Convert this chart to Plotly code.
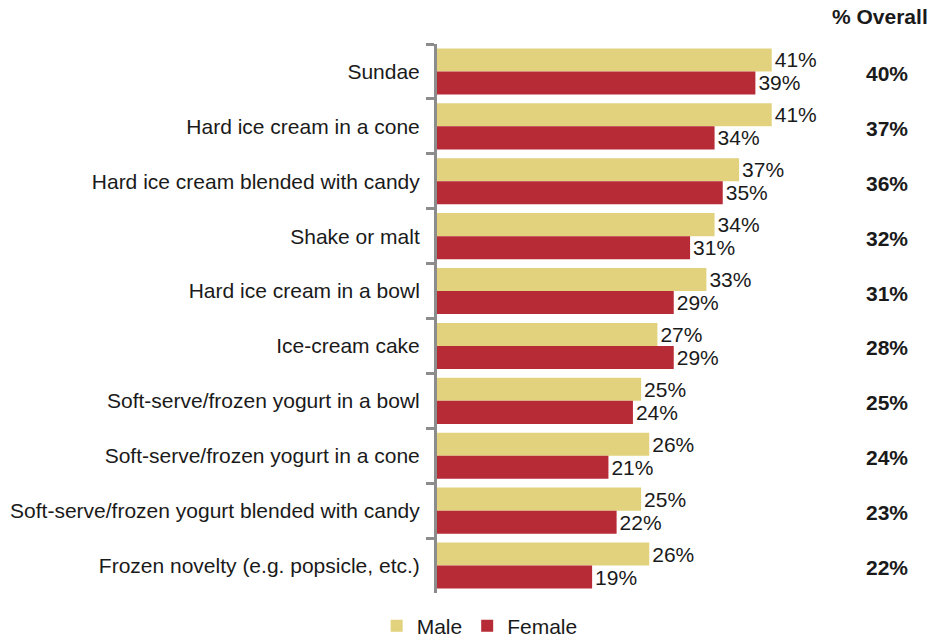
import plotly.graph_objects as go

categories = [
    "Sundae",
    "Hard ice cream in a cone",
    "Hard ice cream blended with candy",
    "Shake or malt",
    "Hard ice cream in a bowl",
    "Ice-cream cake",
    "Soft-serve/frozen yogurt in a bowl",
    "Soft-serve/frozen yogurt in a cone",
    "Soft-serve/frozen yogurt blended with candy",
    "Frozen novelty (e.g. popsicle, etc.)",
]
male = [41, 41, 37, 34, 33, 27, 25, 26, 25, 26]
female = [39, 34, 35, 31, 29, 29, 24, 21, 22, 19]
overall = [40, 37, 36, 32, 31, 28, 25, 24, 23, 22]

FONT = "Liberation Sans, Arial, sans-serif"
TEXT = "#1a1a1a"
MALE_COLOR = "#E2D27E"
FEMALE_COLOR = "#B72B36"
SIZE = 21

fig = go.Figure()
fig.add_trace(go.Bar(
    name="Male", y=categories, x=male, orientation="h",
    marker=dict(color=MALE_COLOR, line=dict(width=0)),
    text=[f"{v}%" for v in male], textposition="outside",
    textfont=dict(family=FONT, size=SIZE, color=TEXT),
    cliponaxis=False,
))
fig.add_trace(go.Bar(
    name="Female", y=categories, x=female, orientation="h",
    marker=dict(color=FEMALE_COLOR, line=dict(width=0)),
    text=[f"{v}%" for v in female], textposition="outside",
    textfont=dict(family=FONT, size=SIZE, color=TEXT),
    cliponaxis=False,
))

# Overall column on the right
annotations = [dict(
    text="<b>% Overall</b>", xref="paper", yref="paper",
    x=0.89, y=1.0, yshift=28, xanchor="center", yanchor="middle",
    showarrow=False, font=dict(family=FONT, size=SIZE, color=TEXT),
)]
for cat, val in zip(categories, overall):
    annotations.append(dict(
        text=f"<b>{val}%</b>", xref="paper", yref="y",
        x=0.904, y=cat, yshift=-2, xanchor="center", yanchor="middle",
        showarrow=False, font=dict(family=FONT, size=SIZE, color=TEXT),
    ))

fig.update_layout(
    width=935, height=639,
    margin=dict(l=437, r=0, t=44, b=46, autoexpand=False),
    paper_bgcolor="white", plot_bgcolor="white",
    barmode="group", bargap=0.16, bargroupgap=0,
    font=dict(family=FONT, size=SIZE, color=TEXT),
    showlegend=True,
    legend=dict(
        orientation="h", xref="container", x=0.513, xanchor="center",
        yref="container", y=0.02, yanchor="middle",
        font=dict(family=FONT, size=SIZE, color=TEXT),
        itemwidth=30, traceorder="normal",
    ),
    annotations=annotations,
    xaxis=dict(
        range=[0, 61], showgrid=False, zeroline=False,
        showticklabels=False, ticks="", showline=False, fixedrange=True,
    ),
    yaxis=dict(
        autorange="reversed", showgrid=False, zeroline=False,
        showline=True, linecolor="#8c8c8c", linewidth=3,
        ticks="outside", tickson="boundaries", ticklen=8,
        tickcolor="#8c8c8c", tickwidth=3,
        tickfont=dict(family=FONT, size=SIZE, color=TEXT),
        ticklabelstandoff=10,
    ),
)

fig.write_html("out.html")
